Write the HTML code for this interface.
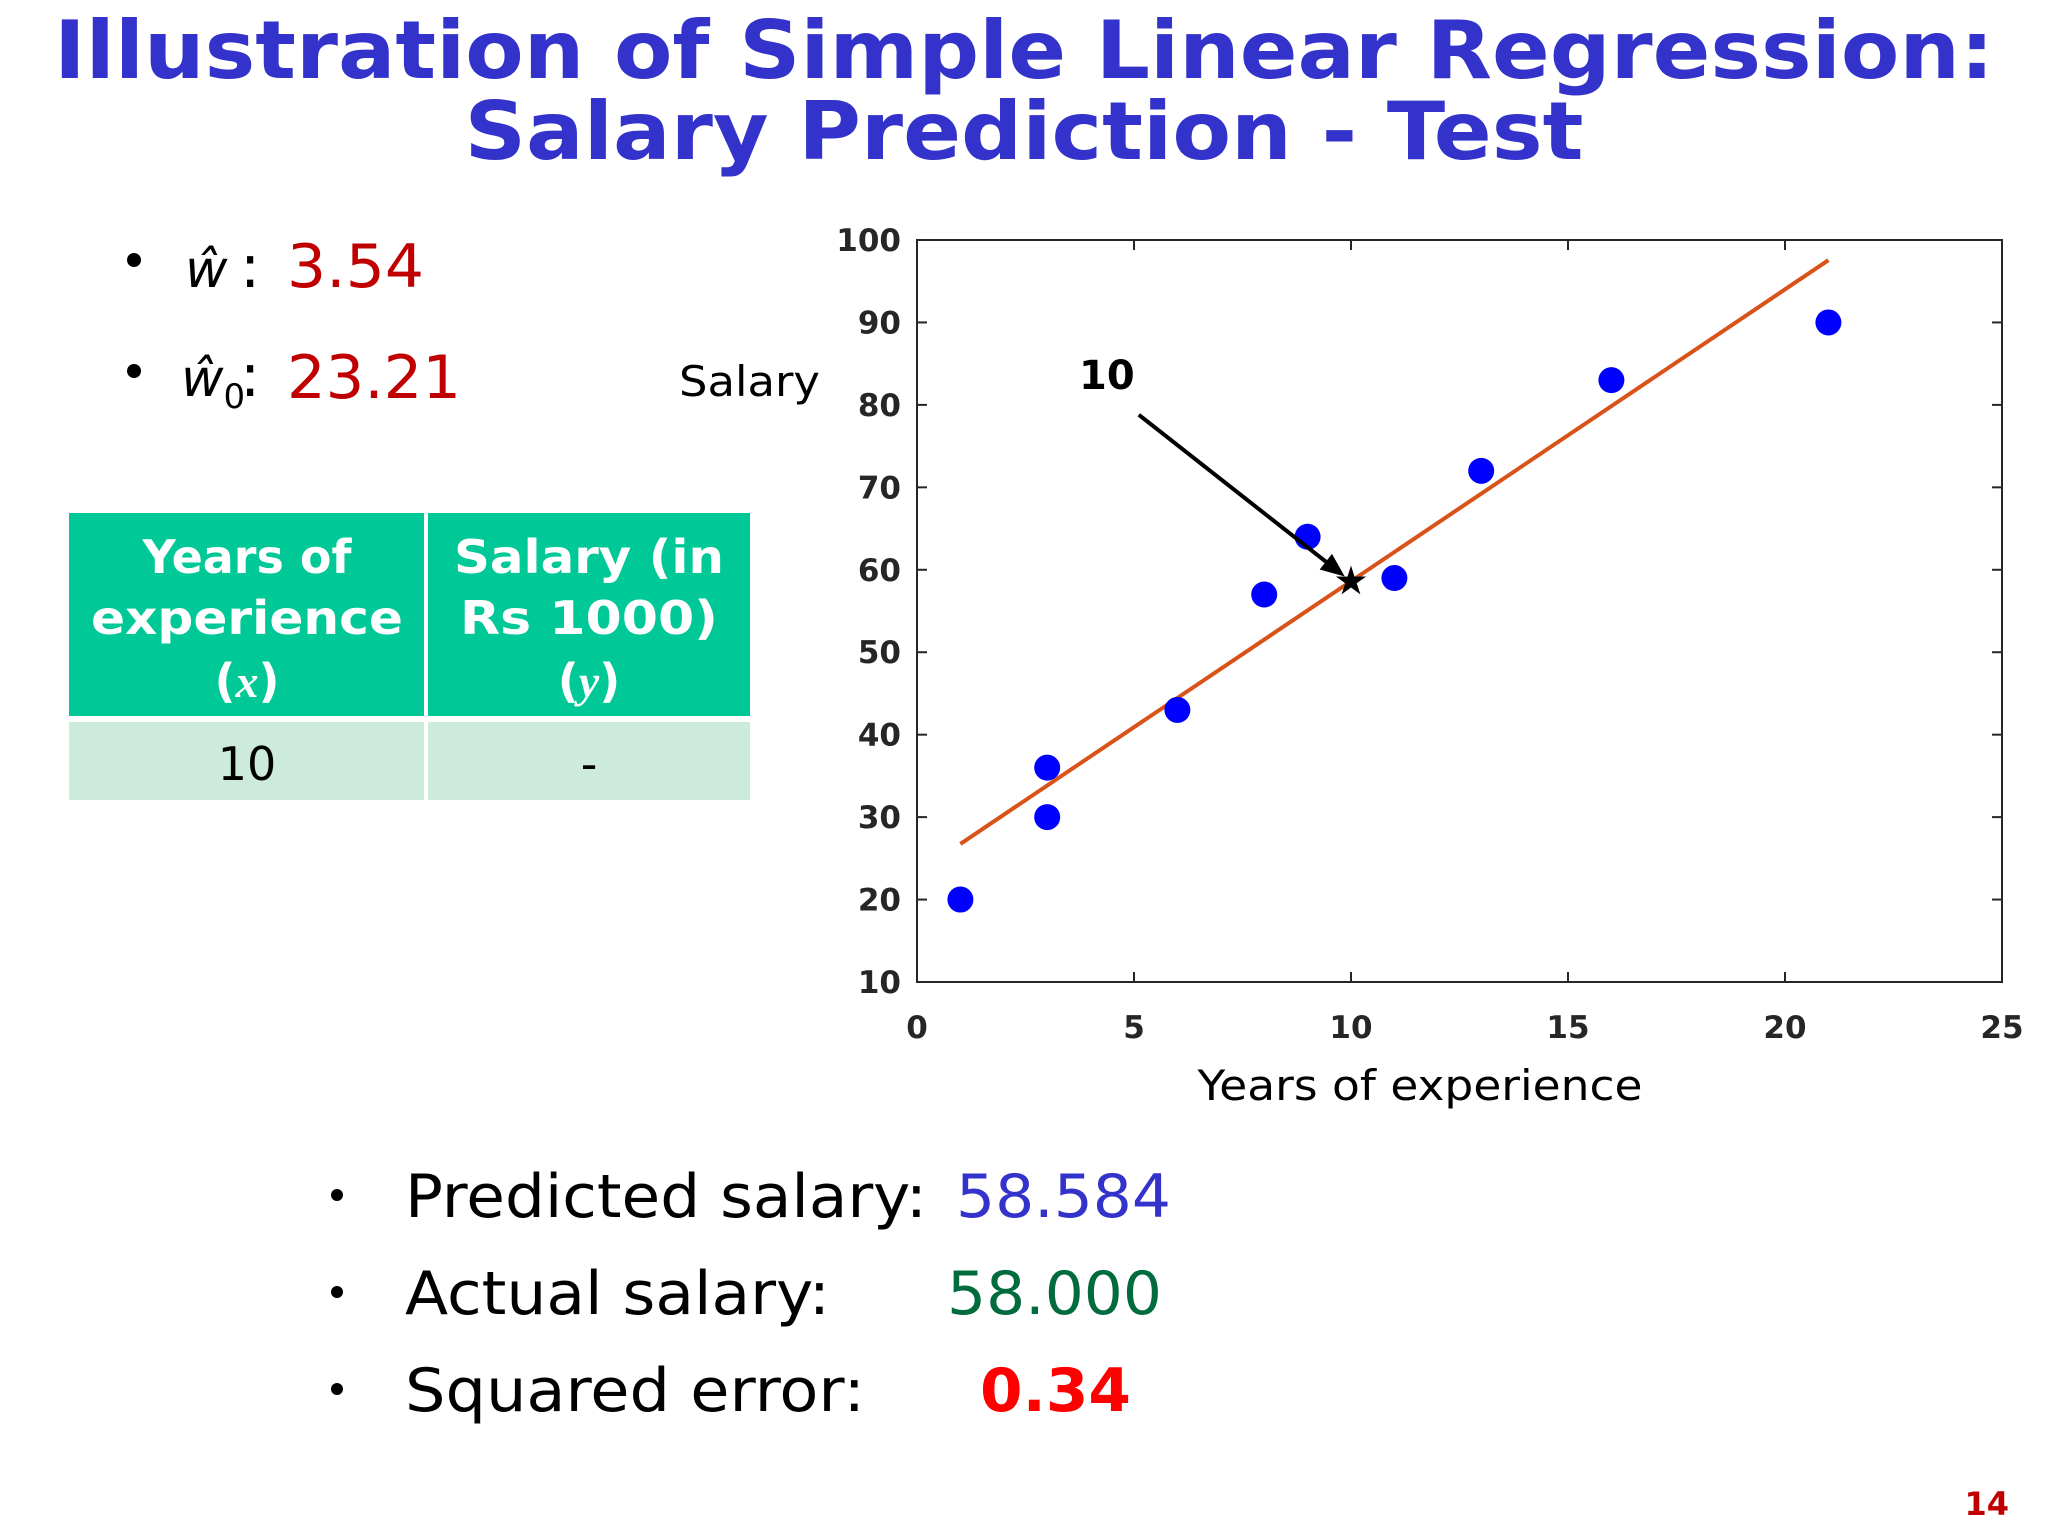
<!DOCTYPE html>
<html><head><meta charset="utf-8"><style>
html,body{margin:0;padding:0;background:#fff;}
svg{display:block;}
text{font-family:"DejaVu Sans","Liberation Sans",sans-serif;}
</style></head><body>
<svg id="slide" width="2048" height="1536" viewBox="0 0 2048 1536">
<g fill="#3333CC" font-weight="bold" font-size="80">
<text x="1024" y="78" text-anchor="middle" textLength="1940" lengthAdjust="spacingAndGlyphs">Illustration of Simple Linear Regression:</text>
<text x="1024" y="159" text-anchor="middle" textLength="1119" lengthAdjust="spacingAndGlyphs">Salary Prediction - Test</text>
</g>
<g font-size="60">
<circle cx="134" cy="260" r="7" fill="#000"/>
<text x="185" y="287" font-family="Liberation Serif,serif" font-style="italic" font-size="52">ŵ</text>
<text x="240" y="287">:</text>
<text x="287" y="287" fill="#C00000" textLength="137" lengthAdjust="spacingAndGlyphs">3.54</text>
<circle cx="134" cy="371" r="7" fill="#000"/>
<text x="181" y="396" font-family="Liberation Serif,serif" font-style="italic" font-size="52">ŵ<tspan font-style="normal" font-size="34" dy="12">0</tspan></text>
<text x="240" y="396">:</text>
<text x="287" y="398" fill="#C00000" textLength="174" lengthAdjust="spacingAndGlyphs">23.21</text>
</g>
<g>
<rect x="69" y="513" width="355" height="203" fill="#00C896"/>
<rect x="428" y="513" width="322" height="203" fill="#00C896"/>
<rect x="69" y="722" width="355" height="78" fill="#CCEBDD"/>
<rect x="428" y="722" width="322" height="78" fill="#CCEBDD"/>
<g fill="#fff" font-weight="bold" font-size="46" text-anchor="middle">
<text x="247" y="573">Years of</text>
<text x="247" y="634" textLength="312" lengthAdjust="spacingAndGlyphs">experience</text>
<text x="247" y="697">(<tspan font-family="Liberation Serif,serif" font-style="italic">x</tspan>)</text>
<text x="589" y="573" textLength="270" lengthAdjust="spacingAndGlyphs">Salary (in</text>
<text x="589" y="634" textLength="258" lengthAdjust="spacingAndGlyphs">Rs 1000)</text>
<text x="589" y="697">(<tspan font-family="Liberation Serif,serif" font-style="italic">y</tspan>)</text>
</g>
<text x="247" y="780" font-size="46" text-anchor="middle">10</text>
<text x="589" y="780" font-size="46" text-anchor="middle">-</text>
</g>
<text x="679" y="396" font-size="42" textLength="141" lengthAdjust="spacingAndGlyphs">Salary</text>
<g id="chart"></g>
<g font-size="60">
<circle cx="337" cy="1195" r="6" fill="#000"/>
<text x="405" y="1217" textLength="522" lengthAdjust="spacingAndGlyphs">Predicted salary:</text>
<text x="956" y="1217" fill="#3333CC" textLength="215" lengthAdjust="spacingAndGlyphs">58.584</text>
<circle cx="337" cy="1292" r="6" fill="#000"/>
<text x="405" y="1314" textLength="425" lengthAdjust="spacingAndGlyphs">Actual salary:</text>
<text x="947" y="1314" fill="#006B3C" textLength="215" lengthAdjust="spacingAndGlyphs">58.000</text>
<circle cx="337" cy="1389" r="6" fill="#000"/>
<text x="405" y="1411" textLength="460" lengthAdjust="spacingAndGlyphs">Squared error:</text>
<text x="980" y="1411" fill="#FF0000" font-weight="bold" textLength="151" lengthAdjust="spacingAndGlyphs">0.34</text>
</g>
<text x="2009" y="1515" fill="#C00000" font-weight="bold" font-size="32" text-anchor="end">14</text>
</svg>
<script>
var xs=[1,3,3,6,8,9,11,13,16,21];
var ys=[20,36,30,43,57,64,59,72,83,90];
var xTicks=[0,5,10,15,20,25];
var yTicks=[10,20,30,40,50,60,70,80,90,100];
var slope=3.54;
var intercept=23.21;
var lineRange=[1,21];
var testX=[10];
var testY=[58.584];
var arrowStart=[5.11,78.8];

var L=917,R=2002,T=240,B=982;
function sx(v){return L+(v-0)/(25-0)*(R-L);}
function sy(v){return B-(v-10)/(100-10)*(B-T);}
var NS="http://www.w3.org/2000/svg";
var g=document.getElementById('chart');
function mk(tag,attrs,parent){var e=document.createElementNS(NS,tag);for(var k in attrs)e.setAttribute(k,attrs[k]);(parent||g).appendChild(e);return e;}
var frame=mk('rect',{x:L,y:T,width:R-L,height:B-T,fill:'#fff',stroke:'#262626','stroke-width':2});


xTicks.forEach(function(t){
 var a=mk('line',{x1:sx(t),x2:sx(t),y1:B,y2:B-10,stroke:'#262626','stroke-width':2});
 
 
 var b=mk('line',{x1:sx(t),x2:sx(t),y1:T,y2:T+10,stroke:'#262626','stroke-width':2});
 
 
 var tx=mk('text',{x:sx(t),y:1038,'text-anchor':'middle','font-size':31,'font-weight':'bold',fill:'#262626','font-family':'Liberation Sans,sans-serif'});
 tx.textContent=t;
 
 
});
yTicks.forEach(function(t){
 var a=mk('line',{x1:L,x2:L+10,y1:sy(t),y2:sy(t),stroke:'#262626','stroke-width':2});
 
 
 var b=mk('line',{x1:R,x2:R-10,y1:sy(t),y2:sy(t),stroke:'#262626','stroke-width':2});
 
 
 var tx=mk('text',{x:901,y:sy(t)+11,'text-anchor':'end','font-size':31,'font-weight':'bold',fill:'#262626','font-family':'Liberation Sans,sans-serif'});
 tx.textContent=t;
 
 
});
var xt=mk('text',{x:1420,y:1100,'text-anchor':'middle','font-size':42,fill:'#000',textLength:445,lengthAdjust:'spacingAndGlyphs'});
xt.textContent='Years of experience';


var fit=mk('line',{x1:sx(lineRange[0]),y1:sy(slope*lineRange[0]+intercept),x2:sx(lineRange[1]),y2:sy(slope*lineRange[1]+intercept),stroke:'#D95319','stroke-width':4});


for(var i=0;i<xs.length;i++){
 var c=mk('ellipse',{cx:sx(xs[i]),cy:sy(ys[i]),rx:13,ry:13,fill:'#0000FF'});
 
 
}
var ax=sx(arrowStart[0]),ay=sy(arrowStart[1]),bx=sx(testX[0]),by=sy(testY[0]);
var dx=bx-ax,dy=by-ay,len=Math.sqrt(dx*dx+dy*dy),ux=dx/len,uy=dy/len;
var ex=bx-ux*8,ey=by-uy*8;
var ar=mk('line',{x1:ax,y1:ay,x2:ex-ux*14,y2:ey-uy*14,stroke:'#000','stroke-width':4});


var hx=ex-ux*24,hy=ey-uy*24;
var head=mk('polygon',{points:ex+','+ey+' '+(hx-uy*10)+','+(hy+ux*10)+' '+(hx+uy*10)+','+(hy-ux*10),fill:'#000'});


var pts=[];for(var k=0;k<10;k++){var r=k%2?6:16,an=-Math.PI/2+k*Math.PI/5;pts.push((bx+r*Math.cos(an))+','+(by+r*Math.sin(an)));}
var st=mk('polygon',{points:pts.join(' '),fill:'#000'});


var lab=mk('text',{x:1079,y:389,'font-size':40,'font-weight':'bold',fill:'#000'});
lab.textContent=testX[0];


</script>
</body></html>
